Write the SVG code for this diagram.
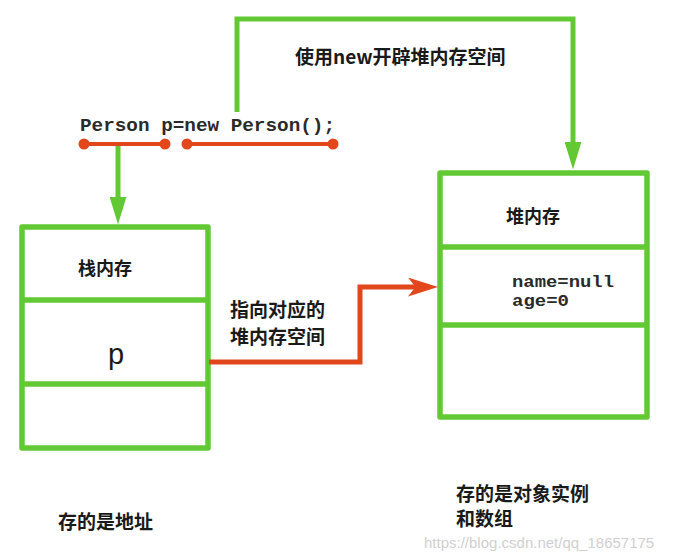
<svg xmlns="http://www.w3.org/2000/svg" width="676" height="556" viewBox="0 0 676 556">
<style>
.box{fill:none;stroke:#62c935;stroke-width:5.5;stroke-linejoin:round}
.div{stroke:#62c935;stroke-width:5.5}
.g{fill:none;stroke:#62c935;stroke-width:5;stroke-linejoin:miter}
.r{fill:none;stroke:#e2471c;stroke-width:5;stroke-linejoin:miter}
.rl{stroke:#e2471c;stroke-width:4}
.dot{fill:#e2471c}
.cjk{font-family:"Noto Sans CJK SC","Noto Sans",sans-serif;font-weight:bold;fill:#1a1a1a}
.mono{font-family:"Liberation Mono","DejaVu Sans Mono",monospace;font-weight:bold;fill:#2a2a2a}
</style>
<defs>
<marker id="ga" viewBox="0 0 10 10" refX="3" refY="5" markerWidth="28" markerHeight="17" orient="auto" markerUnits="userSpaceOnUse" preserveAspectRatio="none">
<path d="M0,0 L10,5 L0,10 z" fill="#62c935"/>
</marker>
<marker id="ra" viewBox="0 0 10 10" refX="3" refY="5" markerWidth="30" markerHeight="19" orient="auto" markerUnits="userSpaceOnUse" preserveAspectRatio="none">
<path d="M0,0 L10,5 L0,10 L2.5,5 z" fill="#e2471c"/>
</marker>
</defs>
<rect width="676" height="556" fill="#ffffff"/>

<g id="code">
<text class="mono" x="80" y="131" font-size="18" textLength="255" lengthAdjust="spacingAndGlyphs">Person p=new Person();</text>
</g>

<g id="stack">
<rect class="box" x="22" y="227" width="186" height="221"/>
<line class="div" x1="22" y1="300" x2="208" y2="300"/>
<line class="div" x1="22" y1="384" x2="208" y2="384"/>
<text class="cjk" x="78" y="275" font-size="18">栈内存</text>
<text x="116" y="364" font-size="29" text-anchor="middle" font-family="Liberation Sans,Arial,sans-serif" fill="#1a1a1a">p</text>
</g>

<g id="heap">
<rect class="box" x="440" y="173" width="207" height="244"/>
<line class="div" x1="440" y1="247" x2="647" y2="247"/>
<line class="div" x1="440" y1="325" x2="647" y2="325"/>
<text class="cjk" x="506" y="223" font-size="18">堆内存</text>
<text class="mono" x="512" y="287" font-size="16" textLength="102" lengthAdjust="spacingAndGlyphs">name=null</text>
<text class="mono" x="512" y="306" font-size="16" textLength="57" lengthAdjust="spacingAndGlyphs">age=0</text>
</g>

<g id="connectors">
<line class="rl" x1="84" y1="144" x2="165" y2="144"/>
<circle class="dot" cx="84" cy="144" r="5.5"/>
<circle class="dot" cx="165" cy="144" r="5.5"/>
<line class="rl" x1="187" y1="144" x2="333" y2="144"/>
<circle class="dot" cx="187" cy="144" r="5.5"/>
<circle class="dot" cx="333" cy="144" r="5.5"/>
<path class="g" d="M118,146 L118,205" marker-end="url(#ga)"/>
<path class="g" d="M237,112 L237,19 L573,19 L573,150" marker-end="url(#ga)"/>
<path class="r" d="M209,362 L360,362 L360,287 L417,287" marker-end="url(#ra)"/>
</g>

<g id="labels">
<text class="cjk" x="295" y="64" font-size="19">使用new开辟堆内存空间</text>
<text class="cjk" x="230" y="317" font-size="19">指向对应的</text>
<text class="cjk" x="230" y="344" font-size="19">堆内存空间</text>
<text class="cjk" x="58" y="529" font-size="19">存的是地址</text>
<text class="cjk" x="456" y="501" font-size="19">存的是对象实例</text>
<text class="cjk" x="456" y="526" font-size="19">和数组</text>
<text x="424" y="548" font-size="15" font-family="Liberation Sans,Arial,sans-serif" fill="#d0d0d0">https://blog.csdn.net/qq_18657175</text>
</g>
</svg>
